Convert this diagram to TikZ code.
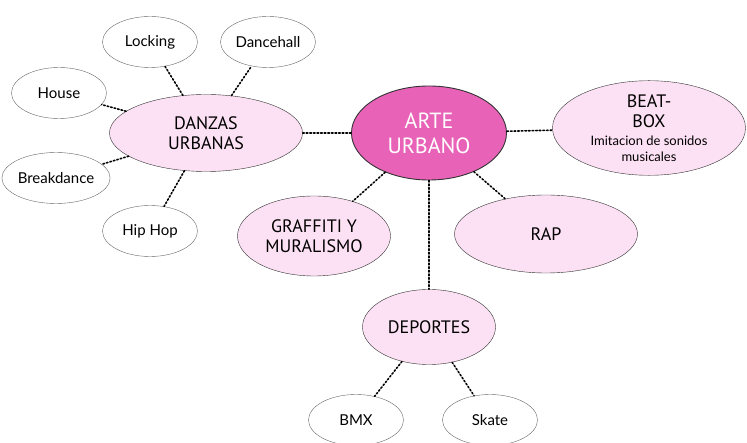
\documentclass[tikz,border=0pt]{standalone}
\usepackage{fontspec}
\setmainfont{Lato}
\newfontfamily\capsfont{PT Sans}
\usetikzlibrary{shapes.geometric}
\definecolor{rosa}{RGB}{232,98,184}
\definecolor{rosaclaro}{RGB}{252,224,243}

\begin{document}
\begin{tikzpicture}[x=1pt,y=-1pt,
    blob/.style={ellipse,draw=black!80,thin,inner sep=0pt,align=center},
    tema/.style={blob,fill=rosaclaro,font=\capsfont\fontsize{18}{20}\selectfont},
    hoja/.style={blob,fill=white,draw=black!60,minimum width=95,minimum height=51,font=\fontsize{15}{17}\selectfont},
    enlace/.style={dotted,line width=1.6pt,line cap=round}]
    \useasboundingbox (0,0) rectangle (747,443);
    \node[blob,fill=rosa,text=white,line width=0.9pt,minimum width=155,minimum height=94,
      font=\capsfont\fontsize{22}{25}\selectfont] (arte) at (429,133) {ARTE\\URBANO};
    \node[tema,minimum width=193,minimum height=89] (beat) at (649,128)
      {BEAT-\\BOX\\[-2pt]\rmfamily\fontsize{13}{14}\selectfont Imitacion de sonidos\\[-4pt]\rmfamily\fontsize{13}{14}\selectfont musicales};
    \node[tema,minimum width=193,minimum height=77] (danzas) at (206,133) {DANZAS\\URBANAS};
    \node[tema,minimum width=153,minimum height=80] (graffiti) at (314,236) {GRAFFITI Y\\MURALISMO};
    \node[tema,minimum width=183,minimum height=78] (rap) at (546,234) {RAP};
    \node[tema,minimum width=133,minimum height=75] (deportes) at (429,327) {DEPORTES};
    \node[hoja] (locking) at (150,42) {Locking};
    \node[hoja] (dancehall) at (268,42) {Dancehall};
    \node[hoja] (house) at (59,93) {House};
    \node[hoja] (breakdance) at (56,178) {Breakdance};
    \node[hoja] (hiphop) at (150,231) {Hip Hop};
    \node[hoja] (bmx) at (356,420) {BMX};
    \node[hoja] (skate) at (490,420) {Skate};
    \path[enlace]
    (arte)
    edge (danzas)
    edge (beat)
    edge (graffiti)
    edge (rap)
    edge (deportes)
    (danzas)
    edge (locking)
    edge (dancehall)
    edge (house)
    edge (breakdance)
    edge (hiphop)
    (deportes)
    edge (bmx)
    edge (skate)
    ;
  \end{tikzpicture}
\end{document}
